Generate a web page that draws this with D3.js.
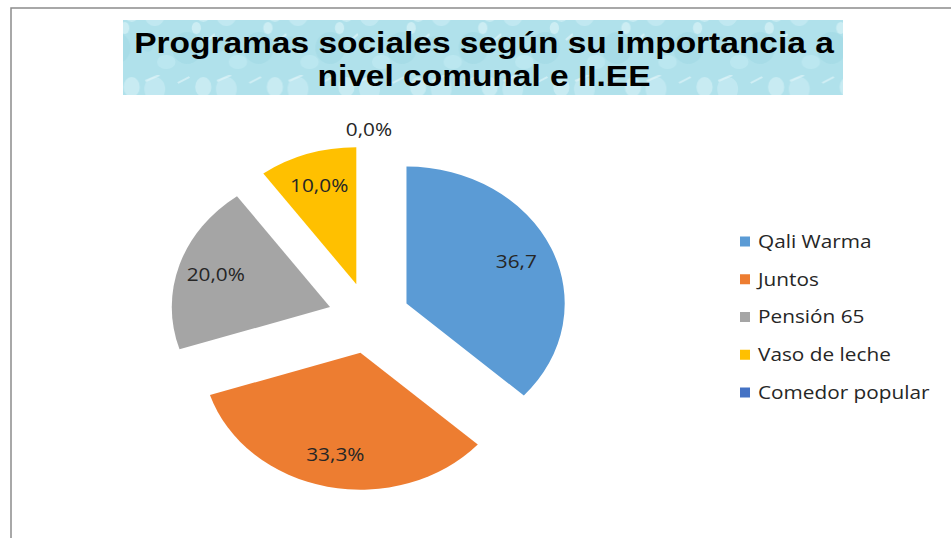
<!DOCTYPE html>
<html lang="es">
  <head>
    <meta charset="UTF-8" />
    <title>Programas sociales</title>
    <script src="https://d3js.org/d3.v7.min.js"></script>
    <style>
      body {
        margin: 0;
        background: #ffffff;
      }
      .slice-label,
      .legend-label {
        font-family: "Open Sans", sans-serif;
        font-size: 18px;
        fill: #262626;
      }
      .title {
        font-family: "Liberation Sans", Arial, sans-serif;
        font-weight: bold;
        font-size: 29px;
        fill: #000;
      }
    </style>
  </head>
  <body>
    <div id="chart"></div>
    <script>
      // chart data
      const categories = ["Qali Warma", "Juntos", "Pensión 65", "Vaso de leche", "Comedor popular"];
      const values = [36.7, 33.3, 20.0, 10.0, 0.0];
      const valueLabels = ["36,7", "33,3%", "20,0%", "10,0%", "0,0%"];
      const colors = ["#5b9bd5", "#ed7d31", "#a5a5a5", "#ffc000", "#4472c4"];
      const titleLines = ["Programas sociales según su importancia a", "nivel comunal e II.EE"];

      const width = 951,
        height = 538;
      const sx = 1.155; // the original picture is stretched horizontally

      const svg = d3
        .select("#chart")
        .append("svg")
        .attr("width", width)
        .attr("height", height);

      // title texture (water drops)
      const defs = svg.append("defs");
      const pat = defs
        .append("pattern")
        .attr("id", "water")
        .attr("patternUnits", "userSpaceOnUse")
        .attr("width", 62)
        .attr("height", 75);
      pat.append("rect").attr("width", 62).attr("height", 75).attr("fill", "#b0e1eb");
      const drops = [
        [10, 14, 9, 12, "#cfeff5", 0.55],
        [38, 48, 13, 16, "#94d2e0", 0.35],
        [52, 12, 7, 10, "#dff5f9", 0.5],
        [20, 62, 8, 7, "#c5ecf3", 0.55],
        [4, 44, 5, 8, "#99d5e3", 0.35],
        [46, 28, 4, 6, "#e8f9fb", 0.5],
      ];
      drops.forEach(([cx, cy, rx, ry, c, o]) => {
        pat
          .append("ellipse")
          .attr("cx", cx)
          .attr("cy", cy)
          .attr("rx", rx)
          .attr("ry", ry)
          .attr("fill", c)
          .attr("opacity", o);
      });
      pat
        .append("path")
        .attr("d", "M2,6 L14,0 M30,8 L40,2 M56,40 L62,34")
        .attr("stroke", "#e6f7fa")
        .attr("stroke-width", 2)
        .attr("opacity", 0.6);

      // chart frame
      svg
        .append("path")
        .attr("d", "M11,538 V8 H951")
        .attr("fill", "none")
        .attr("stroke", "#8c8c8c")
        .attr("stroke-width", 1.5);

      const g = svg.append("g").attr("transform", "scale(" + sx + ",1)");

      // title
      g.append("rect")
        .attr("x", 123 / sx)
        .attr("y", 20)
        .attr("width", 720 / sx)
        .attr("height", 75)
        .attr("fill", "url(#water)");

      g.selectAll(".title")
        .data(titleLines)
        .enter()
        .append("text")
        .attr("class", "title")
        .attr("x", 484 / sx)
        .attr("y", (d, i) => 53 + i * 33)
        .attr("text-anchor", "middle")
        .text((d) => d);

      // exploded pie
      const cx = 369 / sx,
        cy = 318,
        radius = 137,
        explode = 35.5,
        labelR = 104;

      const pie = d3.pie().sort(null).value((d) => d)(values);
      const arc = d3.arc().innerRadius(0).outerRadius(radius);

      const pieG = g.append("g").attr("transform", "translate(" + cx + "," + cy + ")");

      function offsetOf(d, r) {
        const a = (d.startAngle + d.endAngle) / 2;
        return [Math.sin(a) * r, -Math.cos(a) * r];
      }

      pieG
        .selectAll("path")
        .data(pie)
        .enter()
        .append("path")
        .attr("d", arc)
        .attr("fill", (d, i) => colors[i])
        .attr("transform", (d) => "translate(" + offsetOf(d, explode) + ")");

      pieG
        .selectAll(".slice-label")
        .data(pie)
        .enter()
        .append("text")
        .attr("class", "slice-label")
        .attr("text-anchor", "middle")
        .attr("dy", "0.35em")
        .attr("transform", (d) => {
          // empty slice gets its label outside the pie
          if (d.value === 0) {
            const p = offsetOf(d, explode + radius + 16);
            return "translate(" + p + ")";
          }
          const base = offsetOf(d, explode);
          const p = offsetOf(d, labelR);
          return "translate(" + (base[0] + p[0]) + "," + (base[1] + p[1]) + ")";
        })
        .text((d, i) => valueLabels[i]);

      // legend
      const legend = g
        .append("g")
        .attr("transform", "translate(" + 740 / sx + ",241.5)");

      const item = legend
        .selectAll("g")
        .data(categories)
        .enter()
        .append("g")
        .attr("transform", (d, i) => "translate(0," + i * 37.75 + ")");

      item
        .append("rect")
        .attr("x", 0)
        .attr("y", -5)
        .attr("width", 10 / sx)
        .attr("height", 10)
        .attr("fill", (d, i) => colors[i]);

      item
        .append("text")
        .attr("class", "legend-label")
        .attr("x", 18 / sx)
        .attr("dy", "0.35em")
        .text((d) => d);
    </script>
  </body>
</html>
